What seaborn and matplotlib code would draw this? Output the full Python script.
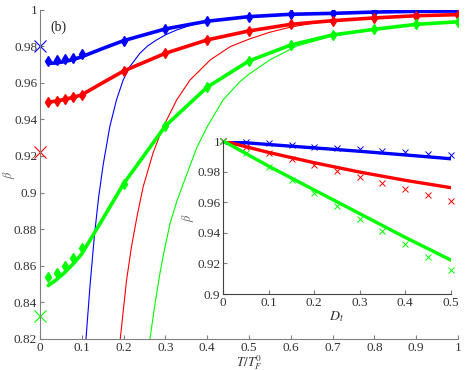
import numpy as np
import pandas as pd
import seaborn as sns
import matplotlib
matplotlib.use('Agg')
import matplotlib.pyplot as plt

# main panel: beta vs T/T_F^0
T_dia = [0.02, 0.04, 0.06, 0.08, 0.1, 0.2, 0.3, 0.4, 0.5, 0.6, 0.7, 0.8, 0.9, 1.0]
blue_dia = [0.9720, 0.9724, 0.9730, 0.9737, 0.9755, 0.9830, 0.9894, 0.9936,
            0.9961, 0.9974, 0.9979, 0.9986, 0.9990, 0.9992]
red_dia = [0.9497, 0.9502, 0.9512, 0.9521, 0.9534, 0.9664, 0.9761, 0.9834,
           0.9883, 0.9919, 0.9939, 0.9954, 0.9966, 0.9972]
green_dia = [0.8539, 0.8559, 0.8597, 0.8643, 0.8697, 0.9048, 0.9364, 0.9576,
             0.9719, 0.9806, 0.9861, 0.9892, 0.9919, 0.9933]

T_fit = [0.02, 0.04, 0.06, 0.08, 0.1, 0.15, 0.2, 0.3, 0.4, 0.5, 0.6, 0.7, 0.8, 0.9, 1.0]
blue_fit = [0.9706, 0.9708, 0.9716, 0.9727, 0.9742, 0.9787, 0.9830, 0.9894, 0.9936,
            0.9961, 0.9974, 0.9979, 0.9986, 0.9990, 0.9992]
red_fit = [0.9494, 0.9500, 0.9510, 0.9520, 0.9534, 0.9600, 0.9664, 0.9761, 0.9834,
           0.9883, 0.9919, 0.9939, 0.9954, 0.9966, 0.9972]
green_fit = [0.8492, 0.8525, 0.8565, 0.8612, 0.8665, 0.8855, 0.9048, 0.9364, 0.9576,
             0.9719, 0.9806, 0.9861, 0.9892, 0.9919, 0.9933]

# thin high-temperature curves
T_blue_thin = [0.110, 0.120, 0.130, 0.140, 0.151, 0.167, 0.183, 0.199, 0.215, 0.239,
               0.258, 0.279, 0.303, 0.327, 0.36, 0.391, 0.45, 0.5, 0.6, 0.7, 0.8, 0.9, 1.0]
blue_thin = [0.820, 0.850, 0.876, 0.897, 0.915, 0.936, 0.9506, 0.9615, 0.9688, 0.9761,
             0.9802, 0.9834, 0.9865, 0.9888, 0.9914, 0.9932, 0.9950, 0.9961, 0.9974,
             0.9979, 0.9986, 0.9990, 0.9992]
T_red_thin = [0.192, 0.207, 0.219, 0.233, 0.247, 0.271, 0.293, 0.327, 0.359, 0.407,
              0.455, 0.5, 0.55, 0.6, 0.65, 0.7, 0.8, 0.9, 1.0]
red_thin = [0.820, 0.852, 0.8706, 0.888, 0.9033, 0.922, 0.935, 0.9506, 0.9615, 0.9724,
            0.9797, 0.9838, 0.9876, 0.9904, 0.9924, 0.9938, 0.9954, 0.9966, 0.9972]
T_green_thin = [0.263, 0.275, 0.287, 0.297, 0.311, 0.327, 0.343, 0.375, 0.400, 0.438,
                0.478, 0.502, 0.55, 0.614, 0.694, 0.8, 0.9, 1.0]
green_thin = [0.820, 0.839, 0.856, 0.868, 0.883, 0.895, 0.905, 0.9245, 0.936, 0.9506,
              0.9605, 0.965, 0.9725, 0.9800, 0.9852, 0.9892, 0.9919, 0.9933]

# T=0 limits
x0_vals = [0.98, 0.9223, 0.8324]

# inset: beta vs D_t
Dt = [0, 0.05, 0.1, 0.15, 0.2, 0.25, 0.3, 0.35, 0.4, 0.45, 0.5]
blue_x = [1.0, 0.9991, 0.9985, 0.9972, 0.9963, 0.9954, 0.9946, 0.9937, 0.9926, 0.9915, 0.9907]
red_x = [1.0, 0.9963, 0.9924, 0.9880, 0.9843, 0.9804, 0.9765, 0.9728, 0.9688, 0.9649, 0.9610]
green_x = [1.0, 0.9924, 0.9832, 0.9745, 0.9662, 0.9577, 0.9492, 0.9410, 0.9325, 0.9244, 0.9157]
Dt_fit = [0, 0.1, 0.2, 0.3, 0.4, 0.5]
blue_dt_fit = [1.0, 0.9977, 0.9955, 0.9933, 0.9909, 0.9884]
red_dt_fit = [1.0, 0.9925, 0.9858, 0.9797, 0.9743, 0.9695]
green_dt_fit = [1.0, 0.9835, 0.968, 0.9525, 0.937, 0.9222]

colors = ['#0000ff', '#ff0000', '#00ff00']

sns.set_style('ticks')
plt.rcParams['font.family'] = ['Liberation Serif', 'DejaVu Serif']
plt.rcParams['mathtext.fontset'] = 'stix'
plt.rcParams['xtick.direction'] = 'in'
plt.rcParams['ytick.direction'] = 'in'
plt.rcParams['axes.edgecolor'] = '#808080'
plt.rcParams['xtick.color'] = '#808080'
plt.rcParams['ytick.color'] = '#808080'
plt.rcParams['xtick.labelcolor'] = '#333333'
plt.rcParams['ytick.labelcolor'] = '#333333'

fig = plt.figure(figsize=(4.71, 3.70), dpi=100)
ax = fig.add_axes([0.0849, 0.0838, 0.8875, 0.8905])

fits = [blue_fit, red_fit, green_fit]
dias = [blue_dia, red_dia, green_dia]
thins = [(T_blue_thin, blue_thin), (T_red_thin, red_thin), (T_green_thin, green_thin)]

for c, f, d, (tt, th), x0 in zip(colors, fits, dias, thins, x0_vals):
    sns.lineplot(x=tt, y=th, ax=ax, color=c, lw=0.8, sort=False)
    sns.lineplot(x=T_fit, y=f, ax=ax, color=c, lw=2.6)
    ax.plot(T_dia, d, ls='none', marker='d', ms=5.5, color=c, mec=c)
    ax.plot([0], [x0], ls='none', marker='x', ms=9, mew=0.8, color=c, clip_on=False)

ax.set_xlim(0, 1)
ax.set_ylim(0.82, 1)
ax.set_xticks(np.arange(0, 1.01, 0.1))
ax.set_xticklabels(['0', '0.1', '0.2', '0.3', '0.4', '0.5', '0.6', '0.7', '0.8', '0.9', '1'])
ax.set_yticks(np.arange(0.82, 1.001, 0.02))
ax.set_yticklabels(['0.82', '0.84', '0.86', '0.88', '0.9', '0.92', '0.94', '0.96', '0.98', '1'])
ax.tick_params(labelsize=9.5, length=3, width=0.8, pad=2)
sns.despine(ax=ax)
ax.set_xlabel(r'$T/T_F^0$', fontsize=9.5, color='#333333')
ax.xaxis.set_label_coords(0.5, -0.043)
ax.set_ylabel(r'$\beta$', fontsize=9, color='#666666')
ax.yaxis.set_label_coords(-0.056, 0.5)
ax.text(0.025, 0.947, '(b)', transform=ax.transAxes, fontsize=10, color='#222222', va='center')

# inset
ins = fig.add_axes([0.474, 0.2054, 0.483, 0.4135])
ins.patch.set_alpha(0)
crosses = [blue_x, red_x, green_x]
dtfits = [blue_dt_fit, red_dt_fit, green_dt_fit]
for c, cx, cf in zip(colors, crosses, dtfits):
    sns.lineplot(x=Dt_fit, y=cf, ax=ins, color=c, lw=2.4)
    ins.plot(Dt, cx, ls='none', marker='x', ms=4, mew=0.7, color=c, clip_on=False)
ins.set_xlim(0, 0.5)
ins.set_ylim(0.9, 1)
ins.set_xticks(np.arange(0, 0.51, 0.1))
ins.set_xticklabels(['0', '0.1', '0.2', '0.3', '0.4', '0.5'])
ins.set_yticks(np.arange(0.9, 1.001, 0.02))
ins.set_yticklabels(['0.9', '0.92', '0.94', '0.96', '0.98', '1'])
ins.tick_params(labelsize=9.5, length=3, width=0.8, pad=2)
for s in ['left', 'bottom']:
    ins.spines[s].set_color('#404040')
sns.despine(ax=ins)
ins.set_xlabel(r'$D_t$', fontsize=10, color='#333333', labelpad=0)
ins.set_ylabel(r'$\beta$', fontsize=9, color='#666666', labelpad=1)

fig.savefig('out.png', dpi=100)
